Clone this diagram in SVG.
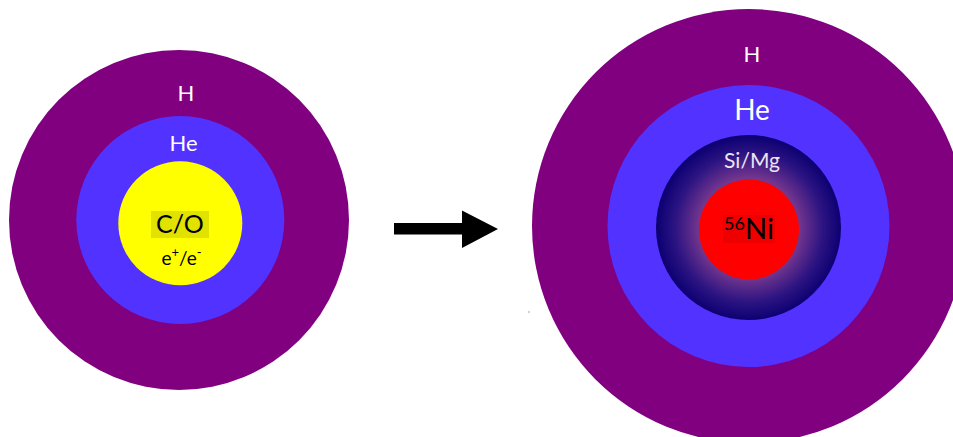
<svg xmlns="http://www.w3.org/2000/svg" width="953" height="437" viewBox="0 0 953 437">
<defs>
<radialGradient id="siGrad" cx="749" cy="228" r="92.5" gradientUnits="userSpaceOnUse">
<stop offset="0.54" stop-color="#74368e"/>
<stop offset="0.8" stop-color="#2c1482"/>
<stop offset="1" stop-color="#0c0072"/>
</radialGradient>
</defs>
<style>
.h{fill:#800080}
.he{fill:#5232ff}
.lbl{font-family:Lato,"Open Sans","Liberation Sans",sans-serif;text-anchor:middle}
.w{fill:#ffffff}
.k{fill:#000000}
</style>
<rect width="953" height="437" fill="#ffffff"/>
<g id="star-before">
<circle class="h" cx="179" cy="220" r="170"/>
<circle class="he" cx="180.3" cy="220" r="104"/>
<circle cx="180.3" cy="223.3" r="62" fill="#ffff00"/>
<rect x="151" y="211" width="58" height="27" fill="#e2e200"/>
<text class="lbl w" x="186" y="101" font-size="22">H</text>
<text class="lbl w" x="183.5" y="151" font-size="22">He</text>
<text class="lbl k" x="180" y="233" font-size="25">C/O</text>
<text class="lbl k" x="181.5" y="265" font-size="19">e<tspan font-size="13" dy="-8">+</tspan><tspan dy="8">/e</tspan><tspan font-size="13" dy="-8">-</tspan></text>
</g>
<g id="connectors">
<polygon points="394,223 462,223 462,210.5 498,229 462,248 462,234.5 394,234.5" fill="#000000"/>
</g>
<g id="star-after">
<circle class="h" cx="749" cy="226" r="217"/>
<circle class="he" cx="748.5" cy="226" r="141"/>
<circle cx="748.5" cy="227.5" r="92.5" fill="url(#siGrad)"/>
<circle cx="749" cy="229.5" r="50" fill="#ff0000"/>
<rect x="723" y="215" width="52" height="28" fill="#ee0000"/>
<text class="lbl w" x="752" y="62" font-size="22">H</text>
<text class="lbl w" x="752" y="120" font-size="28">He</text>
<text class="lbl" x="752" y="168" font-size="21" fill="#ece4f4">Si/Mg</text>
<text class="lbl k" x="749" y="239" font-size="29"><tspan font-size="18" dy="-9">56</tspan><tspan dy="9">Ni</tspan></text>
<circle cx="529" cy="312" r="0.8" fill="#999999"/>
</g>
</svg>
